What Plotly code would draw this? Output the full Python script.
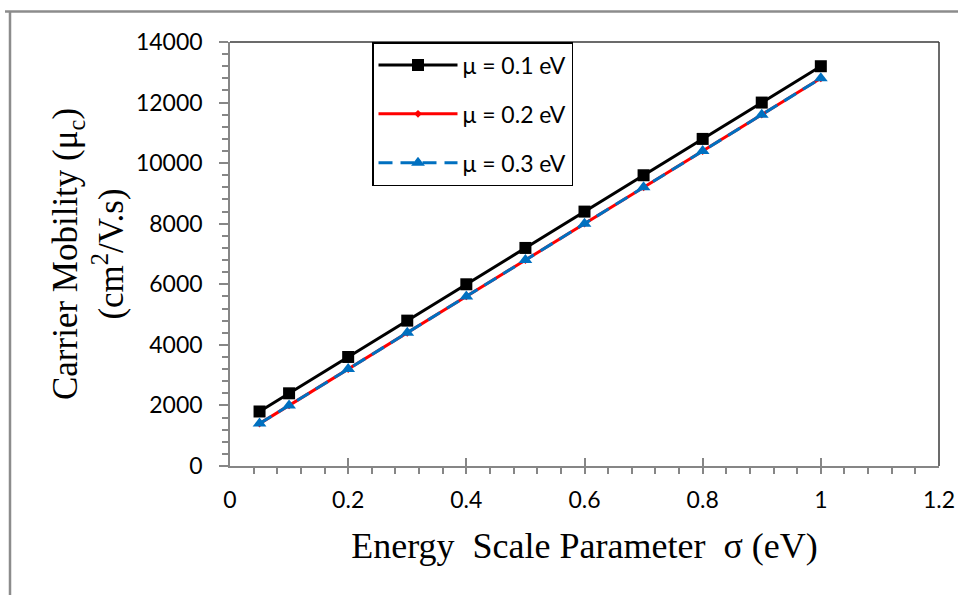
import plotly.graph_objects as go

# Energy scale parameter sigma (eV)
sigma = [0.05, 0.1, 0.2, 0.3, 0.4, 0.5, 0.6, 0.7, 0.8, 0.9, 1.0]

# Carrier mobility (cm^2/V.s) for each chemical potential
mob_01 = [1800, 2400, 3600, 4800, 6000, 7200, 8400, 9600, 10800, 12000, 13200]
mob_02 = [1400, 2000, 3200, 4400, 5600, 6800, 8000, 9200, 10400, 11600, 12800]
mob_03 = [1400, 2000, 3200, 4400, 5600, 6800, 8000, 9200, 10400, 11600, 12800]

names = ["μ = 0.1 eV", "μ = 0.2 eV", "μ = 0.3 eV"]
y_ticks = [0, 2000, 4000, 6000, 8000, 10000, 12000, 14000]
x_ticks = [0, 0.2, 0.4, 0.6, 0.8, 1, 1.2]

W, H = 958, 595
L, R, T, B = 230, 19, 42, 129
PW, PH = W - L - R, H - T - B

AX = "#868686"
TICK_FONT = dict(family="Lato, 'Open Sans', sans-serif", size=23, color="#000000")
SERIF = "'Liberation Serif', 'Times New Roman', serif"


def px_x(px):
    return (px - L) / PW


def px_y(py):
    return (H - B - py) / PH


fig = go.Figure()
fig.add_trace(go.Scatter(
    x=sigma, y=mob_01, name=names[0], mode="lines+markers",
    line=dict(color="#000000", width=3),
    marker=dict(symbol="square", size=12, color="#000000"),
    legendgroup="a",
))
fig.add_trace(go.Scatter(
    x=sigma, y=mob_02, name=names[1], mode="lines+markers",
    line=dict(color="#FF0000", width=3),
    marker=dict(symbol="diamond", size=6, color="#FF0000"),
    legendgroup="b",
))
fig.add_trace(go.Scatter(
    x=sigma, y=mob_03, name=names[2], mode="lines+markers",
    line=dict(color="#0070C0", width=3, dash="14px,8px"),
    marker=dict(symbol="triangle-up", size=12, color="#0070C0"),
    legendgroup="c",
))

fig.update_layout(
    width=W, height=H,
    margin=dict(l=L, r=R, t=T, b=B, autoexpand=False),
    paper_bgcolor="white", plot_bgcolor="white",
    showlegend=True,
    legend=dict(
        x=px_x(372), y=1.0, xanchor="left", yanchor="top",
        bordercolor="#000000", borderwidth=1.5, bgcolor="white",
        font=dict(family="Lato, 'Open Sans', sans-serif", size=23, color="#000000"),
        itemwidth=79, tracegroupgap=16,
    ),
    xaxis=dict(
        range=[0, 1.2], tickvals=x_ticks, ticktext=[str(v) for v in x_ticks],
        showgrid=False, zeroline=False,
        showline=True, linecolor=AX, linewidth=1.5,
        ticks="inside", ticklen=8, tickcolor=AX, tickwidth=1.5,
        minor=dict(dtick=0.04, ticks="outside", ticklen=6, tickcolor=AX, tickwidth=1.5),
        tickfont=TICK_FONT, ticklabelstandoff=13,
        title=dict(text="Energy  Scale Parameter  σ (eV)",
                   font=dict(family=SERIF, size=36, color="#000000"), standoff=20),
    ),
    yaxis=dict(
        range=[0, 14000], tickvals=y_ticks, ticktext=[str(v) for v in y_ticks],
        showgrid=False, zeroline=False,
        showline=True, linecolor=AX, linewidth=1.5,
        ticks="outside", ticklen=9, tickcolor=AX, tickwidth=1.5,
        minor=dict(dtick=400, ticks="outside", ticklen=6, tickcolor=AX, tickwidth=1.5),
        tickfont=TICK_FONT, ticklabelstandoff=12,
        title=dict(text="Carrier Mobility (μ<sub>c</sub>)<br>(cm<sup>2</sup>/V.s)",
                   font=dict(family=SERIF, size=35, color="#000000"), standoff=2),
    ),
    yaxis2=dict(
        overlaying="y", side="left", range=[0, 14000], tickvals=y_ticks,
        showticklabels=False, showgrid=False, zeroline=False, showline=False,
        ticks="inside", ticklen=9, tickcolor=AX, tickwidth=1.5,
    ),
)

# Plot-area frame (top and right edges)
frame = "#3a3a3a"
fig.add_shape(type="line", xref="paper", yref="paper", x0=0, x1=1, y0=1, y1=1,
              line=dict(color=frame, width=1.5))
fig.add_shape(type="line", xref="paper", yref="paper", x0=1, x1=1, y0=0, y1=1,
              line=dict(color=frame, width=1.5))

# Outer chart border (top and left edges)
outer = "#8c8c8c"
fig.add_shape(type="line", xref="paper", yref="paper",
              x0=px_x(5), x1=px_x(W + 5), y0=px_y(11.5), y1=px_y(11.5),
              line=dict(color=outer, width=2.5))
fig.add_shape(type="line", xref="paper", yref="paper",
              x0=px_x(10), x1=px_x(10), y0=px_y(11.5), y1=px_y(H + 5),
              line=dict(color=outer, width=2.5))

fig.write_html("out.html")
